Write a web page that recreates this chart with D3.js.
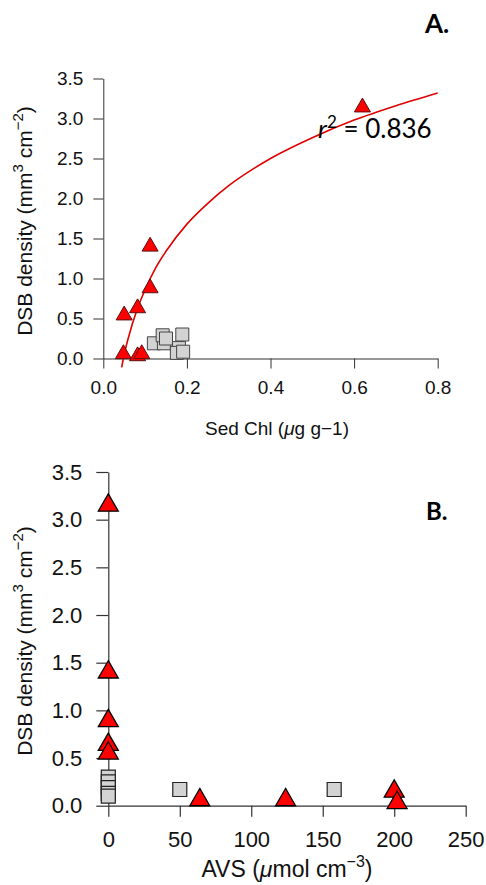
<!DOCTYPE html>
<html>
<head>
<meta charset="utf-8">
<script src="https://cdn.jsdelivr.net/npm/d3@7"></script>
<style>
  body { margin: 0; background: #fff; }
  svg { display: block; }
  .axis text { font-family: "Liberation Sans", Arial, sans-serif; fill: #111; }
  .axis path, .axis line { stroke: #333; }
</style>
</head>
<body>
<script>
// panel A: sediment chlorophyll vs DSB density
var chlTri = [0.112, 0.112, 0.082, 0.050, 0.048, 0.082, 0.092, 0.620];
var dsbTriA = [1.40, 0.88, 0.63, 0.54, 0.056, 0.03, 0.056, 3.14];
var chlSq = [0.121, 0.145, 0.142, 0.150, 0.189, 0.181, 0.176, 0.191];
var dsbSqA = [0.19, 0.19, 0.29, 0.25, 0.30, 0.13, 0.07, 0.085];
// fitted curve
var fitChl = [0.044, 0.05, 0.06, 0.08, 0.10, 0.125, 0.15, 0.20, 0.25, 0.30, 0.40, 0.50, 0.60, 0.70, 0.80];
var fitDsb = [-0.11, 0.05, 0.26, 0.60, 0.86, 1.13, 1.34, 1.68, 1.94, 2.16, 2.50, 2.76, 2.98, 3.16, 3.32];

// panel B: AVS vs DSB density
var avsTri = [0, 0, 0, 0, 0, 64, 124, 200, 202];
var dsbTriB = [3.15, 1.40, 0.89, 0.64, 0.55, 0.06, 0.06, 0.15, 0.03];
var avsSq = [0, 0, 0, 0, 0, 50, 158];
var dsbSqB = [0.30, 0.25, 0.19, 0.13, 0.10, 0.17, 0.17];

var ticksDsb = [0, 0.5, 1.0, 1.5, 2.0, 2.5, 3.0, 3.5];
var ticksChl = [0, 0.2, 0.4, 0.6, 0.8];
var ticksAvs = [0, 50, 100, 150, 200, 250];

var svg = d3.select("body").append("svg")
    .attr("width", 486)
    .attr("height", 885);

var fmt = d3.format(".1f");

// ---------- panel A ----------
var xA = d3.scaleLinear().domain([0, 0.8]).range([103.3, 437.7]);
var yA = d3.scaleLinear().domain([0, 3.5]).range([358.5, 78.5]);

svg.append("g").attr("class", "axis")
    .attr("transform", "translate(" + xA(0) + ",0)")
    .call(d3.axisLeft(yA).tickValues(ticksDsb).tickFormat(fmt).tickSize(10).tickSizeOuter(0).tickPadding(10))
    .selectAll("text").style("font-size", "19px");

svg.append("g").attr("class", "axis")
    .attr("transform", "translate(0," + yA(0) + ")")
    .call(d3.axisBottom(xA).tickValues(ticksChl).tickFormat(fmt).tickSize(10).tickSizeOuter(0).tickPadding(12))
    .selectAll("text").style("font-size", "19px");

var line = d3.line()
    .x(d => xA(d[0]))
    .y(d => yA(d[1]))
    .curve(d3.curveMonotoneX);

svg.append("path")
    .datum(d3.zip(fitChl, fitDsb))
    .attr("d", line)
    .attr("fill", "none")
    .attr("stroke", "#e00000")
    .attr("stroke-width", 1.6);

var sqA = d3.symbol(d3.symbolSquare, 169);
var triA = d3.symbol(d3.symbolTriangle, 111);

svg.append("g").selectAll("path")
    .data(d3.zip(chlSq, dsbSqA))
    .join("path")
    .attr("d", sqA)
    .attr("transform", d => "translate(" + xA(d[0]) + "," + yA(d[1]) + ")")
    .attr("fill", "#d3d3d3")
    .attr("stroke", "#444")
    .attr("stroke-width", 1);

svg.append("g").selectAll("path")
    .data(d3.zip(chlTri, dsbTriA))
    .join("path")
    .attr("d", triA)
    .attr("transform", d => "translate(" + xA(d[0]) + "," + yA(d[1]) + ")")
    .attr("fill", "#ff0000")
    .attr("stroke", "#5a1010")
    .attr("stroke-width", 1);

// r squared label
var r2 = svg.append("text")
    .attr("x", 318).attr("y", 138)
    .style("font-family", "Lato, 'Open Sans', sans-serif")
    .style("font-size", "26px")
    .attr("fill", "#000");
r2.append("tspan").style("font-style", "italic").text("r");
r2.append("tspan").attr("dy", -10).style("font-size", "17px").text("2");
r2.append("tspan").attr("dy", 10).text(" = 0.836");

svg.append("text")
    .attr("x", 425).attr("y", 33)
    .style("font-family", "Lato, 'Open Sans', sans-serif")
    .style("font-size", "26px").style("font-weight", "bold")
    .text("A.");

// x title A
var xtA = svg.append("text")
    .attr("x", 277).attr("y", 435)
    .attr("text-anchor", "middle")
    .style("font-family", "'Liberation Sans', Arial, sans-serif")
    .style("font-size", "19px")
    .attr("fill", "#111");
xtA.append("tspan").text("Sed Chl (");
xtA.append("tspan").style("font-style", "italic").text("\u03bc");
xtA.append("tspan").text("g g\u22121)");

// y titles
function yTitle(cy) {
  var t = svg.append("text")
      .attr("transform", "translate(32," + cy + ") rotate(-90)")
      .attr("text-anchor", "middle")
      .style("font-family", "'Liberation Sans', Arial, sans-serif")
      .style("font-size", "21px")
      .attr("fill", "#111");
  t.append("tspan").text("DSB density (mm");
  t.append("tspan").attr("dy", -9).style("font-size", "15px").text("3");
  t.append("tspan").attr("dy", 9).text(" cm");
  t.append("tspan").attr("dy", -9).style("font-size", "15px").text("\u22122");
  t.append("tspan").attr("dy", 9).text(")");
}
yTitle(221);

// ---------- panel B ----------
var xB = d3.scaleLinear().domain([0, 250]).range([108.3, 465.7]);
var yB = d3.scaleLinear().domain([0, 3.5]).range([805.7, 472]);

svg.append("g").attr("class", "axis")
    .attr("transform", "translate(" + xB(0) + ",0)")
    .call(d3.axisLeft(yB).tickValues(ticksDsb).tickFormat(fmt).tickSize(12).tickSizeOuter(0).tickPadding(14))
    .call(g => g.selectAll("path, line").attr("stroke", "#111").attr("stroke-width", 1.2))
    .selectAll("text").style("font-size", "22px");

svg.append("g").attr("class", "axis")
    .attr("transform", "translate(0," + yB(0) + ")")
    .call(d3.axisBottom(xB).tickValues(ticksAvs).tickSize(11).tickSizeOuter(0).tickPadding(15))
    .call(g => g.selectAll("path, line").attr("stroke", "#111").attr("stroke-width", 1.2))
    .selectAll("text").style("font-size", "22px");

var sqB = d3.symbol(d3.symbolSquare, 196);
var triB = d3.symbol(d3.symbolTriangle, 173);

svg.append("g").selectAll("path")
    .data(d3.zip(avsSq, dsbSqB))
    .join("path")
    .attr("d", sqB)
    .attr("transform", d => "translate(" + xB(d[0]) + "," + yB(d[1]) + ")")
    .attr("fill", "#d3d3d3")
    .attr("stroke", "#222")
    .attr("stroke-width", 1.2);

svg.append("g").selectAll("path")
    .data(d3.zip(avsTri, dsbTriB))
    .join("path")
    .attr("d", triB)
    .attr("transform", d => "translate(" + xB(d[0]) + "," + yB(d[1]) + ")")
    .attr("fill", "#ff0000")
    .attr("stroke", "#000")
    .attr("stroke-width", 1.3);

svg.append("text")
    .attr("x", 426).attr("y", 520)
    .style("font-family", "Lato, 'Open Sans', sans-serif")
    .style("font-size", "24px").style("font-weight", "bold")
    .text("B.");

var xtB = svg.append("text")
    .attr("x", 287).attr("y", 877)
    .attr("text-anchor", "middle")
    .style("font-family", "'Liberation Sans', Arial, sans-serif")
    .style("font-size", "23px")
    .attr("fill", "#111");
xtB.append("tspan").text("AVS (");
xtB.append("tspan").style("font-style", "italic").text("\u03bc");
xtB.append("tspan").text("mol cm");
xtB.append("tspan").attr("dy", -10).style("font-size", "16px").text("\u22123");
xtB.append("tspan").attr("dy", 10).text(")");

yTitle(641);
</script>
</body>
</html>
